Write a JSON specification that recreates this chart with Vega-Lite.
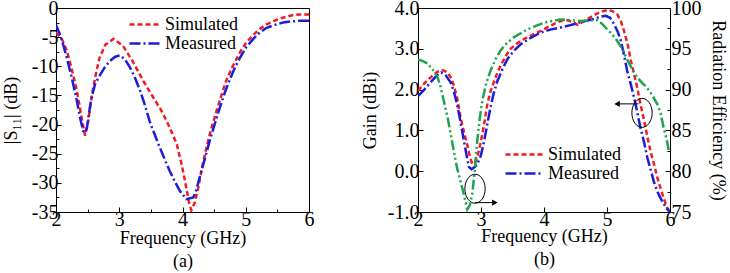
{
  "$schema": "https://vega.github.io/schema/vega-lite/v6.json",
  "padding": {"left": 1, "top": -3, "right": 0, "bottom": 0},
  "background": "white",
  "config": {
    "font": "Liberation Serif",
    "view": {"stroke": "black", "strokeWidth": 1},
    "axis": {
      "grid": false,
      "labelFont": "Liberation Serif",
      "labelFontSize": 20,
      "labelColor": "black",
      "titleFont": "Liberation Serif",
      "titleFontSize": 18,
      "titleFontWeight": "normal",
      "titleColor": "black",
      "domainColor": "black",
      "tickColor": "black",
      "labelFlush": false,
      "labelOverlap": false,
      "labelBound": false
    },
    "legend": {
      "labelFont": "Liberation Serif",
      "labelFontSize": 18,
      "labelColor": "black"
    }
  },
  "datasets": {
    "s11": [
      {"f": 2.0, "v": -4.2, "s": "Simulated"},
      {"f": 2.1, "v": -5.5, "s": "Simulated"},
      {"f": 2.17, "v": -7.3, "s": "Simulated"},
      {"f": 2.25, "v": -10.5, "s": "Simulated"},
      {"f": 2.33, "v": -14.2, "s": "Simulated"},
      {"f": 2.4, "v": -18.5, "s": "Simulated"},
      {"f": 2.46, "v": -21.9, "s": "Simulated"},
      {"f": 2.51, "v": -19.4, "s": "Simulated"},
      {"f": 2.55, "v": -16.2, "s": "Simulated"},
      {"f": 2.59, "v": -13.6, "s": "Simulated"},
      {"f": 2.64, "v": -10.8, "s": "Simulated"},
      {"f": 2.69, "v": -8.5, "s": "Simulated"},
      {"f": 2.78, "v": -6.3, "s": "Simulated"},
      {"f": 2.91, "v": -5.3, "s": "Simulated"},
      {"f": 3.06, "v": -6.5, "s": "Simulated"},
      {"f": 3.22, "v": -9.3, "s": "Simulated"},
      {"f": 3.38, "v": -12.5, "s": "Simulated"},
      {"f": 3.54, "v": -15.4, "s": "Simulated"},
      {"f": 3.65, "v": -17.3, "s": "Simulated"},
      {"f": 3.75, "v": -19.4, "s": "Simulated"},
      {"f": 3.85, "v": -21.8, "s": "Simulated"},
      {"f": 3.91, "v": -23.4, "s": "Simulated"},
      {"f": 3.98, "v": -26.5, "s": "Simulated"},
      {"f": 4.04, "v": -29.7, "s": "Simulated"},
      {"f": 4.1, "v": -33.2, "s": "Simulated"},
      {"f": 4.14, "v": -34.7, "s": "Simulated"},
      {"f": 4.19, "v": -33.5, "s": "Simulated"},
      {"f": 4.25, "v": -30.8, "s": "Simulated"},
      {"f": 4.31, "v": -27.3, "s": "Simulated"},
      {"f": 4.38, "v": -23.9, "s": "Simulated"},
      {"f": 4.46, "v": -20.5, "s": "Simulated"},
      {"f": 4.54, "v": -17.6, "s": "Simulated"},
      {"f": 4.62, "v": -14.8, "s": "Simulated"},
      {"f": 4.69, "v": -12.5, "s": "Simulated"},
      {"f": 4.77, "v": -10.5, "s": "Simulated"},
      {"f": 4.85, "v": -8.8, "s": "Simulated"},
      {"f": 4.93, "v": -7.2, "s": "Simulated"},
      {"f": 5.01, "v": -5.9, "s": "Simulated"},
      {"f": 5.12, "v": -4.6, "s": "Simulated"},
      {"f": 5.22, "v": -3.6, "s": "Simulated"},
      {"f": 5.33, "v": -2.8, "s": "Simulated"},
      {"f": 5.43, "v": -2.3, "s": "Simulated"},
      {"f": 5.54, "v": -1.8, "s": "Simulated"},
      {"f": 5.64, "v": -1.5, "s": "Simulated"},
      {"f": 5.75, "v": -1.2, "s": "Simulated"},
      {"f": 5.85, "v": -1.1, "s": "Simulated"},
      {"f": 6.0, "v": -1.1, "s": "Simulated"},
      {"f": 2.0, "v": -2.9, "s": "Measured"},
      {"f": 2.08, "v": -5.0, "s": "Measured"},
      {"f": 2.17, "v": -8.5, "s": "Measured"},
      {"f": 2.25, "v": -12.0, "s": "Measured"},
      {"f": 2.33, "v": -15.9, "s": "Measured"},
      {"f": 2.38, "v": -18.8, "s": "Measured"},
      {"f": 2.43, "v": -21.1, "s": "Measured"},
      {"f": 2.46, "v": -21.4, "s": "Measured"},
      {"f": 2.49, "v": -20.5, "s": "Measured"},
      {"f": 2.52, "v": -18.2, "s": "Measured"},
      {"f": 2.56, "v": -15.4, "s": "Measured"},
      {"f": 2.62, "v": -13.0, "s": "Measured"},
      {"f": 2.69, "v": -11.6, "s": "Measured"},
      {"f": 2.77, "v": -10.2, "s": "Measured"},
      {"f": 2.85, "v": -9.1, "s": "Measured"},
      {"f": 2.93, "v": -8.4, "s": "Measured"},
      {"f": 3.01, "v": -8.1, "s": "Measured"},
      {"f": 3.09, "v": -8.8, "s": "Measured"},
      {"f": 3.17, "v": -10.2, "s": "Measured"},
      {"f": 3.25, "v": -12.0, "s": "Measured"},
      {"f": 3.33, "v": -14.2, "s": "Measured"},
      {"f": 3.41, "v": -16.8, "s": "Measured"},
      {"f": 3.48, "v": -19.4, "s": "Measured"},
      {"f": 3.56, "v": -21.7, "s": "Measured"},
      {"f": 3.64, "v": -23.9, "s": "Measured"},
      {"f": 3.72, "v": -26.0, "s": "Measured"},
      {"f": 3.8, "v": -28.0, "s": "Measured"},
      {"f": 3.88, "v": -29.8, "s": "Measured"},
      {"f": 3.96, "v": -31.4, "s": "Measured"},
      {"f": 4.06, "v": -32.8, "s": "Measured"},
      {"f": 4.17, "v": -32.5, "s": "Measured"},
      {"f": 4.22, "v": -31.2, "s": "Measured"},
      {"f": 4.27, "v": -29.1, "s": "Measured"},
      {"f": 4.35, "v": -26.0, "s": "Measured"},
      {"f": 4.43, "v": -22.8, "s": "Measured"},
      {"f": 4.51, "v": -19.9, "s": "Measured"},
      {"f": 4.59, "v": -17.1, "s": "Measured"},
      {"f": 4.67, "v": -14.5, "s": "Measured"},
      {"f": 4.75, "v": -12.2, "s": "Measured"},
      {"f": 4.83, "v": -10.2, "s": "Measured"},
      {"f": 4.91, "v": -8.5, "s": "Measured"},
      {"f": 5.01, "v": -6.7, "s": "Measured"},
      {"f": 5.12, "v": -5.3, "s": "Measured"},
      {"f": 5.22, "v": -4.2, "s": "Measured"},
      {"f": 5.33, "v": -3.4, "s": "Measured"},
      {"f": 5.46, "v": -2.9, "s": "Measured"},
      {"f": 5.59, "v": -2.5, "s": "Measured"},
      {"f": 5.72, "v": -2.3, "s": "Measured"},
      {"f": 5.85, "v": -2.2, "s": "Measured"},
      {"f": 6.0, "v": -2.2, "s": "Measured"}
    ],
    "gain": [
      {"f": 2.0, "g": 1.97, "s": "Simulated"},
      {"f": 2.1, "g": 2.15, "s": "Simulated"},
      {"f": 2.2, "g": 2.3, "s": "Simulated"},
      {"f": 2.3, "g": 2.43, "s": "Simulated"},
      {"f": 2.39, "g": 2.48, "s": "Simulated"},
      {"f": 2.46, "g": 2.43, "s": "Simulated"},
      {"f": 2.52, "g": 2.3, "s": "Simulated"},
      {"f": 2.57, "g": 2.1, "s": "Simulated"},
      {"f": 2.62, "g": 1.8, "s": "Simulated"},
      {"f": 2.66, "g": 1.45, "s": "Simulated"},
      {"f": 2.7, "g": 1.15, "s": "Simulated"},
      {"f": 2.74, "g": 0.9, "s": "Simulated"},
      {"f": 2.78, "g": 0.66, "s": "Simulated"},
      {"f": 2.82, "g": 0.38, "s": "Simulated"},
      {"f": 2.86, "g": 0.18, "s": "Simulated"},
      {"f": 2.9, "g": 0.2, "s": "Simulated"},
      {"f": 2.94, "g": 0.33, "s": "Simulated"},
      {"f": 2.98, "g": 0.6, "s": "Simulated"},
      {"f": 3.02, "g": 0.9, "s": "Simulated"},
      {"f": 3.06, "g": 1.25, "s": "Simulated"},
      {"f": 3.1, "g": 1.64, "s": "Simulated"},
      {"f": 3.15, "g": 1.95, "s": "Simulated"},
      {"f": 3.21, "g": 2.21, "s": "Simulated"},
      {"f": 3.26, "g": 2.42, "s": "Simulated"},
      {"f": 3.31, "g": 2.58, "s": "Simulated"},
      {"f": 3.39, "g": 2.82, "s": "Simulated"},
      {"f": 3.47, "g": 3.0, "s": "Simulated"},
      {"f": 3.57, "g": 3.13, "s": "Simulated"},
      {"f": 3.68, "g": 3.24, "s": "Simulated"},
      {"f": 3.82, "g": 3.35, "s": "Simulated"},
      {"f": 3.95, "g": 3.44, "s": "Simulated"},
      {"f": 4.08, "g": 3.55, "s": "Simulated"},
      {"f": 4.21, "g": 3.65, "s": "Simulated"},
      {"f": 4.3, "g": 3.69, "s": "Simulated"},
      {"f": 4.37, "g": 3.7, "s": "Simulated"},
      {"f": 4.45, "g": 3.66, "s": "Simulated"},
      {"f": 4.53, "g": 3.59, "s": "Simulated"},
      {"f": 4.61, "g": 3.65, "s": "Simulated"},
      {"f": 4.69, "g": 3.73, "s": "Simulated"},
      {"f": 4.77, "g": 3.8, "s": "Simulated"},
      {"f": 4.85, "g": 3.87, "s": "Simulated"},
      {"f": 4.93, "g": 3.92, "s": "Simulated"},
      {"f": 5.01, "g": 3.95, "s": "Simulated"},
      {"f": 5.08, "g": 3.93, "s": "Simulated"},
      {"f": 5.16, "g": 3.85, "s": "Simulated"},
      {"f": 5.22, "g": 3.68, "s": "Simulated"},
      {"f": 5.27, "g": 3.44, "s": "Simulated"},
      {"f": 5.33, "g": 3.1, "s": "Simulated"},
      {"f": 5.38, "g": 2.7, "s": "Simulated"},
      {"f": 5.43, "g": 2.38, "s": "Simulated"},
      {"f": 5.48, "g": 2.05, "s": "Simulated"},
      {"f": 5.53, "g": 1.65, "s": "Simulated"},
      {"f": 5.59, "g": 1.23, "s": "Simulated"},
      {"f": 5.64, "g": 0.85, "s": "Simulated"},
      {"f": 5.69, "g": 0.49, "s": "Simulated"},
      {"f": 5.75, "g": 0.15, "s": "Simulated"},
      {"f": 5.8, "g": -0.16, "s": "Simulated"},
      {"f": 5.85, "g": -0.42, "s": "Simulated"},
      {"f": 5.9, "g": -0.66, "s": "Simulated"},
      {"f": 5.95, "g": -0.88, "s": "Simulated"},
      {"f": 6.0, "g": -1.0, "s": "Simulated"},
      {"f": 2.0, "g": 1.84, "s": "Measured"},
      {"f": 2.1, "g": 2.0, "s": "Measured"},
      {"f": 2.2, "g": 2.18, "s": "Measured"},
      {"f": 2.3, "g": 2.35, "s": "Measured"},
      {"f": 2.37, "g": 2.42, "s": "Measured"},
      {"f": 2.44, "g": 2.35, "s": "Measured"},
      {"f": 2.52, "g": 2.17, "s": "Measured"},
      {"f": 2.57, "g": 1.95, "s": "Measured"},
      {"f": 2.62, "g": 1.64, "s": "Measured"},
      {"f": 2.67, "g": 1.25, "s": "Measured"},
      {"f": 2.72, "g": 0.82, "s": "Measured"},
      {"f": 2.77, "g": 0.4, "s": "Measured"},
      {"f": 2.81, "g": 0.1, "s": "Measured"},
      {"f": 2.85, "g": 0.05, "s": "Measured"},
      {"f": 2.9, "g": 0.1, "s": "Measured"},
      {"f": 2.94, "g": 0.16, "s": "Measured"},
      {"f": 3.0, "g": 0.4, "s": "Measured"},
      {"f": 3.05, "g": 0.74, "s": "Measured"},
      {"f": 3.1, "g": 1.15, "s": "Measured"},
      {"f": 3.15, "g": 1.56, "s": "Measured"},
      {"f": 3.2, "g": 1.9, "s": "Measured"},
      {"f": 3.26, "g": 2.21, "s": "Measured"},
      {"f": 3.34, "g": 2.5, "s": "Measured"},
      {"f": 3.42, "g": 2.75, "s": "Measured"},
      {"f": 3.52, "g": 2.95, "s": "Measured"},
      {"f": 3.63, "g": 3.11, "s": "Measured"},
      {"f": 3.79, "g": 3.27, "s": "Measured"},
      {"f": 3.95, "g": 3.4, "s": "Measured"},
      {"f": 4.1, "g": 3.47, "s": "Measured"},
      {"f": 4.26, "g": 3.52, "s": "Measured"},
      {"f": 4.42, "g": 3.58, "s": "Measured"},
      {"f": 4.58, "g": 3.65, "s": "Measured"},
      {"f": 4.69, "g": 3.69, "s": "Measured"},
      {"f": 4.79, "g": 3.73, "s": "Measured"},
      {"f": 4.88, "g": 3.78, "s": "Measured"},
      {"f": 4.98, "g": 3.81, "s": "Measured"},
      {"f": 5.05, "g": 3.76, "s": "Measured"},
      {"f": 5.11, "g": 3.61, "s": "Measured"},
      {"f": 5.17, "g": 3.42, "s": "Measured"},
      {"f": 5.22, "g": 3.2, "s": "Measured"},
      {"f": 5.27, "g": 2.85, "s": "Measured"},
      {"f": 5.32, "g": 2.46, "s": "Measured"},
      {"f": 5.38, "g": 2.12, "s": "Measured"},
      {"f": 5.43, "g": 1.8, "s": "Measured"},
      {"f": 5.48, "g": 1.45, "s": "Measured"},
      {"f": 5.53, "g": 1.07, "s": "Measured"},
      {"f": 5.59, "g": 0.7, "s": "Measured"},
      {"f": 5.64, "g": 0.33, "s": "Measured"},
      {"f": 5.7, "g": 0.0, "s": "Measured"},
      {"f": 5.75, "g": -0.29, "s": "Measured"},
      {"f": 5.8, "g": -0.5, "s": "Measured"},
      {"f": 5.85, "g": -0.66, "s": "Measured"},
      {"f": 5.9, "g": -0.8, "s": "Measured"},
      {"f": 5.95, "g": -0.92, "s": "Measured"},
      {"f": 6.0, "g": -1.0, "s": "Measured"}
    ],
    "eff": [
      {"f": 2.0, "e": 93.7}, {"f": 2.08, "e": 93.5}, {"f": 2.15, "e": 93.2},
      {"f": 2.23, "e": 92.5}, {"f": 2.31, "e": 91.5}, {"f": 2.36, "e": 90.3},
      {"f": 2.41, "e": 88.6}, {"f": 2.47, "e": 86.6}, {"f": 2.52, "e": 84.5},
      {"f": 2.57, "e": 82.4}, {"f": 2.62, "e": 80.4}, {"f": 2.68, "e": 78.6},
      {"f": 2.73, "e": 77.1}, {"f": 2.78, "e": 75.3}, {"f": 2.82, "e": 75.8},
      {"f": 2.86, "e": 77.1}, {"f": 2.9, "e": 80.0}, {"f": 2.94, "e": 83.7},
      {"f": 2.98, "e": 86.4}, {"f": 3.02, "e": 88.6}, {"f": 3.08, "e": 90.7},
      {"f": 3.15, "e": 92.3}, {"f": 3.23, "e": 93.7}, {"f": 3.31, "e": 94.8},
      {"f": 3.41, "e": 95.7}, {"f": 3.52, "e": 96.4}, {"f": 3.63, "e": 96.9},
      {"f": 3.74, "e": 97.4}, {"f": 3.87, "e": 97.8}, {"f": 4.0, "e": 98.2},
      {"f": 4.13, "e": 98.4}, {"f": 4.26, "e": 98.6}, {"f": 4.42, "e": 98.5},
      {"f": 4.58, "e": 98.4}, {"f": 4.72, "e": 98.5}, {"f": 4.85, "e": 98.5},
      {"f": 4.93, "e": 98.0}, {"f": 5.0, "e": 97.4}, {"f": 5.08, "e": 96.8},
      {"f": 5.16, "e": 96.0}, {"f": 5.24, "e": 95.0}, {"f": 5.32, "e": 93.7},
      {"f": 5.4, "e": 92.5}, {"f": 5.48, "e": 91.5}, {"f": 5.56, "e": 90.8},
      {"f": 5.64, "e": 90.2}, {"f": 5.72, "e": 89.3}, {"f": 5.8, "e": 88.2},
      {"f": 5.85, "e": 87.1}, {"f": 5.9, "e": 85.3}, {"f": 5.95, "e": 83.8},
      {"f": 5.98, "e": 82.5}
    ],
    "ellipses": [
      {"f": 2.905, "g": -0.43},
      {"f": 5.556, "g": 1.43}
    ],
    "arrowR": [{"f": 2.905, "f2": 3.22, "g": -0.77}],
    "arrowL": [{"f": 5.5, "f2": 5.16, "g": 1.65}]
  },
  "hconcat": [
    {
      "width": 253,
      "height": 204,
      "data": {"name": "s11"},
      "mark": {"type": "line", "strokeWidth": 2.5, "clip": true},
      "encoding": {
        "x": {
          "field": "f", "type": "quantitative",
          "scale": {"domain": [2, 6], "nice": false},
          "axis": {
            "title": ["Frequency (GHz)", "(a)"],
            "titleLineHeight": 23,
            "titlePadding": -2,
            "values": [2, 2.5, 3, 3.5, 4, 4.5, 5, 5.5, 6],
            "labelExpr": "datum.value % 1 === 0 ? '' + datum.value : ''",
            "labelPadding": 2,
            "tickSize": {"condition": {"test": "datum.value % 1 !== 0", "value": -3}, "value": -5}
          }
        },
        "y": {
          "field": "v", "type": "quantitative",
          "scale": {"domain": [-35, 0], "nice": false},
          "axis": {
            "title": "|S₁₁| (dB)",
            "titlePadding": 11,
            "values": [-35, -32.5, -30, -27.5, -25, -22.5, -20, -17.5, -15, -12.5, -10, -7.5, -5, -2.5, 0],
            "labelExpr": "datum.value % 5 === 0 ? '' + datum.value : ''",
            "labelPadding": 3,
            "tickSize": {"condition": {"test": "datum.value % 5 !== 0", "value": -3}, "value": -5}
          }
        },
        "color": {
          "field": "s", "type": "nominal",
          "scale": {"domain": ["Simulated", "Measured"], "range": ["#ee1c24", "#1c1cdc"]},
          "legend": {"orient": "none", "legendX": 72, "legendY": 7, "title": null, "symbolType": "stroke", "symbolSize": 1024, "symbolStrokeWidth": 2.5, "labelOffset": 2, "rowPadding": 0, "clipHeight": 19}
        },
        "strokeDash": {
          "field": "s", "type": "nominal",
          "scale": {"domain": ["Simulated", "Measured"], "range": [[5, 3], [11, 3, 2, 3]]},
          "legend": {"orient": "none", "legendX": 72, "legendY": 7, "title": null, "symbolType": "stroke", "symbolSize": 1024, "symbolStrokeWidth": 2.5, "labelOffset": 2, "rowPadding": 0, "clipHeight": 19}
        }
      }
    },
    {
      "width": 252,
      "height": 204,
      "layer": [
        {
          "layer": [
            {
              "data": {"name": "gain"},
              "mark": {"type": "line", "strokeWidth": 2.5, "clip": true},
              "encoding": {
                "x": {
                  "field": "f", "type": "quantitative",
                  "scale": {"domain": [2, 6], "nice": false},
                  "axis": {
                    "title": ["Frequency (GHz)", "(b)"],
                    "titleLineHeight": 23,
                    "titlePadding": -2,
                    "values": [2, 2.5, 3, 3.5, 4, 4.5, 5, 5.5, 6],
                    "labelExpr": "datum.value % 1 === 0 ? '' + datum.value : ''",
                    "labelPadding": 2,
                    "tickSize": {"condition": {"test": "datum.value % 1 !== 0", "value": -3}, "value": -5}
                  }
                },
                "y": {
                  "field": "g", "type": "quantitative",
                  "scale": {"domain": [-1, 4], "nice": false},
                  "axis": {
                    "title": "Gain (dBi)",
                    "titlePadding": 8,
                    "values": [-1, -0.5, 0, 0.5, 1, 1.5, 2, 2.5, 3, 3.5, 4],
                    "labelExpr": "datum.value % 1 === 0 ? (datum.value < 0 ? '-' : '') + format(abs(datum.value), '.1f') : ''",
                    "labelPadding": 4,
                    "tickSize": {"condition": {"test": "datum.value % 1 !== 0", "value": -3}, "value": -5}
                  }
                },
                "color": {
                  "field": "s", "type": "nominal",
                  "scale": {"domain": ["Simulated", "Measured"], "range": ["#ee1c24", "#1c1cdc"]},
                  "legend": {"orient": "none", "legendX": 86, "legendY": 137, "title": null, "symbolType": "stroke", "symbolSize": 1369, "symbolStrokeWidth": 2.5, "labelOffset": 4, "rowPadding": 0, "clipHeight": 19}
                },
                "strokeDash": {
                  "field": "s", "type": "nominal",
                  "scale": {"domain": ["Simulated", "Measured"], "range": [[5, 3], [11, 3, 2, 3]]},
                  "legend": {"orient": "none", "legendX": 86, "legendY": 137, "title": null, "symbolType": "stroke", "symbolSize": 1369, "symbolStrokeWidth": 2.5, "labelOffset": 4, "rowPadding": 0, "clipHeight": 19}
                }
              }
            },
            {
              "data": {"name": "ellipses"},
              "mark": {"type": "point", "shape": "M -0.7,0 A 0.7,1 0 1,0 0.7,0 A 0.7,1 0 1,0 -0.7,0 Z", "size": 841, "filled": false, "stroke": "black", "strokeWidth": 1, "opacity": 1},
              "encoding": {
                "x": {"field": "f", "type": "quantitative"},
                "y": {"field": "g", "type": "quantitative"}
              }
            },
            {
              "data": {"name": "arrowR"},
              "mark": {"type": "rule", "color": "black", "strokeWidth": 1},
              "encoding": {
                "x": {"field": "f", "type": "quantitative"},
                "x2": {"field": "f2"},
                "y": {"field": "g", "type": "quantitative"}
              }
            },
            {
              "data": {"name": "arrowR"},
              "mark": {"type": "point", "shape": "triangle-right", "size": 40, "filled": true, "color": "black", "opacity": 1},
              "encoding": {
                "x": {"field": "f2", "type": "quantitative"},
                "y": {"field": "g", "type": "quantitative"}
              }
            },
            {
              "data": {"name": "arrowL"},
              "mark": {"type": "rule", "color": "black", "strokeWidth": 1},
              "encoding": {
                "x": {"field": "f", "type": "quantitative"},
                "x2": {"field": "f2"},
                "y": {"field": "g", "type": "quantitative"}
              }
            },
            {
              "data": {"name": "arrowL"},
              "mark": {"type": "point", "shape": "triangle-left", "size": 40, "filled": true, "color": "black", "opacity": 1},
              "encoding": {
                "x": {"field": "f2", "type": "quantitative"},
                "y": {"field": "g", "type": "quantitative"}
              }
            }
          ]
        },
        {
          "data": {"name": "eff"},
          "mark": {"type": "line", "strokeWidth": 2.5, "color": "#1fa24e", "strokeDash": [10, 3, 2, 3, 2, 3], "clip": true},
          "encoding": {
            "x": {"field": "f", "type": "quantitative"},
            "y": {
              "field": "e", "type": "quantitative",
              "scale": {"domain": [75, 100], "nice": false},
              "axis": {
                "orient": "right",
                "title": "Radiation Efficiency (%)",
                "titlePadding": 7,
                "values": [75, 77.5, 80, 82.5, 85, 87.5, 90, 92.5, 95, 97.5, 100],
                "labelExpr": "datum.value % 5 === 0 ? '' + datum.value : ''",
                "labelPadding": 6,
                "tickSize": {"condition": {"test": "datum.value % 5 !== 0", "value": -3}, "value": -5}
              }
            }
          }
        }
      ],
      "resolve": {"scale": {"y": "independent"}}
    }
  ],
  "spacing": 45,
  "resolve": {
    "scale": {"color": "independent", "strokeDash": "independent"},
    "legend": {"color": "independent", "strokeDash": "independent"}
  }
}
